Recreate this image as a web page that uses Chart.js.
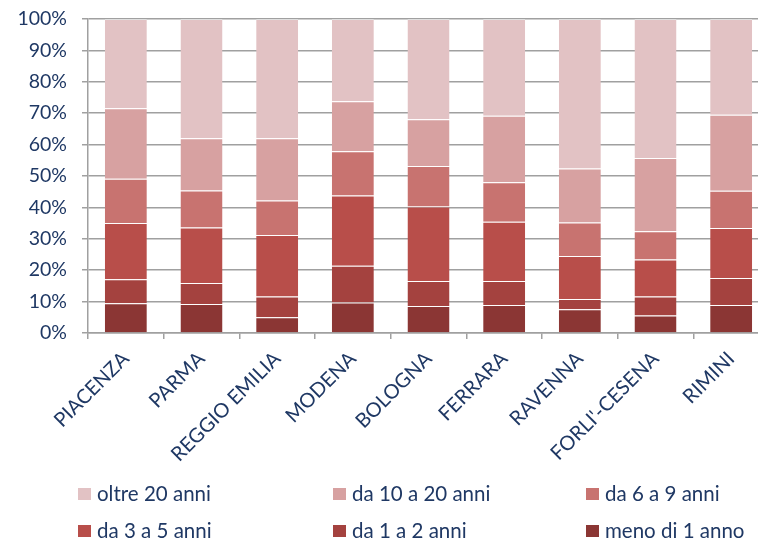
<!DOCTYPE html>
<html><head><meta charset="utf-8">
<script src="https://cdn.jsdelivr.net/npm/chart.js@4/dist/chart.umd.min.js"></script>
<style>
html,body{margin:0;padding:0;background:#fff;overflow:hidden;}
#wrap{position:relative;width:758px;height:540px;overflow:hidden;}
#c{position:absolute;left:0;top:0;}
.leg{position:absolute;font-family:Lato,sans-serif;font-size:20.5px;color:#1F3864;white-space:nowrap;height:14px;}
.leg i{position:absolute;left:0;top:0;width:13px;height:12px;}
.leg span{position:absolute;left:19px;top:-7px;line-height:24px;}
</style>
</head><body>
<div id="wrap"><canvas id="c" width="769" height="540"></canvas></div>
<script>
const categories = ["PIACENZA","PARMA","REGGIO EMILIA","MODENA","BOLOGNA","FERRARA","RAVENNA","FORLI'-CESENA","RIMINI"];
const seriesNames = ["meno di 1 anno","da 1 a 2 anni","da 3 a 5 anni","da 6 a 9 anni","da 10 a 20 anni","oltre 20 anni"];
const meno1   = [9.5, 9.2, 5.0, 9.7, 8.6, 8.9, 7.6, 5.6, 8.9];
const da1a2   = [7.6, 6.7, 6.6, 11.7, 8.0, 7.7, 3.2, 6.0, 8.6];
const da3a5   = [17.9, 17.7, 19.6, 22.4, 23.7, 18.8, 13.7, 11.8, 15.9];
const da6a9   = [14.1, 11.8, 11.0, 14.1, 12.9, 12.6, 10.7, 9.0, 11.9];
const da10a20 = [22.5, 16.6, 19.8, 15.9, 14.9, 21.2, 17.2, 23.3, 24.2];
const oltre20 = [28.4, 38.0, 38.0, 26.2, 31.9, 30.8, 47.6, 44.3, 30.5];
const yTicks = [0,10,20,30,40,50,60,70,80,90,100];
const colors = ["#8B3634","#A4423F","#B84E4A","#C87370","#D7A1A1","#E2C2C4"];
const seriesValues = [meno1, da1a2, da3a5, da6a9, da10a20, oltre20];

const navy = "#1F3864";
const gridCol = "#A0A0A0";
const datasets = seriesNames.map((n,i)=>({
  label:n, data:seriesValues[i], backgroundColor:colors[i],
  borderColor:"rgba(255,255,255,0.35)", borderWidth:{top:1,bottom:0,left:0,right:0},
  borderSkipped:false, barPercentage:1, categoryPercentage:0.555
}));

new Chart(document.getElementById('c'), {
  type:'bar',
  data:{labels:categories, datasets},
  options:{
    responsive:false, animation:false,
    layout:{padding:{top:19,left:0,right:0,bottom:0}},
    plugins:{legend:{display:false}, tooltip:{enabled:false}},
    scales:{
      x:{stacked:true,
        grid:{offset:true, drawOnChartArea:false, drawTicks:true, tickLength:6, color:gridCol, lineWidth:1.5},
        border:{display:true, color:gridCol, width:1.5},
        ticks:{minRotation:45, maxRotation:45, autoSkip:false, padding:8, color:navy, font:{family:'Lato', size:20}},
        afterFit:(s)=>{s.height = 540-333; s.paddingLeft = 0; s.paddingRight = 0;}
      },
      y:{stacked:true, min:0, max:100,
        afterBuildTicks:(s)=>{s.ticks = yTicks.map(v=>({value:v}));},
        grid:{color:gridCol, lineWidth:1.5, tickLength:6, drawTicks:true},
        border:{display:true, color:gridCol, width:1.5},
        ticks:{padding:15, color:navy, font:{family:'Lato', size:19.5}, callback:(v)=>v+'%'},
        afterFit:(s)=>{s.width = 88; s.paddingTop = 0; s.paddingBottom = 0;}
      }
    }
  }
});

// HTML legend built from series names / colors
const legendOrder = [5,4,3,2,1,0];
const colX = [78, 333, 586];
const rowY = [488, 525];
const wrap = document.getElementById('wrap');
legendOrder.forEach((si,k)=>{
  const d = document.createElement('div');
  d.className='leg';
  d.style.left = colX[k%3]+'px';
  d.style.top = rowY[Math.floor(k/3)]+'px';
  d.innerHTML = '<i style="background:'+colors[si]+'"></i><span>'+seriesNames[si]+'</span>';
  wrap.appendChild(d);
});
</script>
</body></html>
